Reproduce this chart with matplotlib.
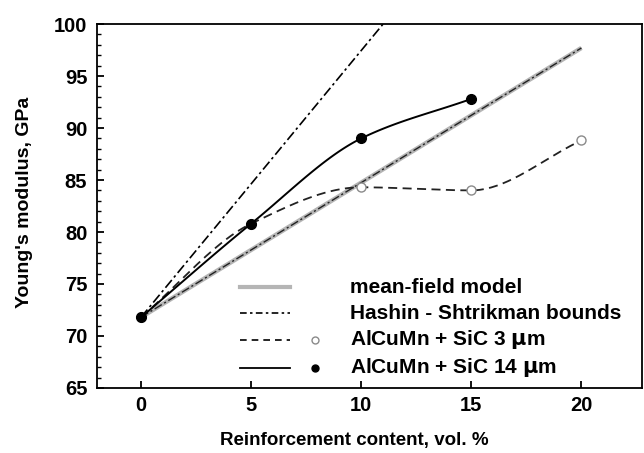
import numpy as np
import matplotlib
matplotlib.use('Agg')
import matplotlib.pyplot as plt
from matplotlib.ticker import MultipleLocator

plt.rcParams['font.family'] = ['Liberation Sans', 'DejaVu Sans']
plt.rcParams['font.weight'] = 'bold'

# Данные
mf_x = [0, 20]
mf_y = [71.8, 97.7]
hs_up_x = [0, 11.5]
hs_up_y = [71.8, 101.3]
sic3_x = [0, 5, 10, 15, 20]
sic3_y = [71.8, 80.8, 84.3, 84.0, 88.8]
sic14_x = [0, 5, 10, 15]
sic14_y = [71.8, 80.8, 89.0, 92.8]

legend_labels = ['mean-field model', 'Hashin - Shtrikman bounds',
                 'AlCuMn + SiC 3 $\\mathbf{\\mu}$m', 'AlCuMn + SiC 14 $\\mathbf{\\mu}$m']


# Гладкая кривая через точки (монотонный кубический сплайн)
def smooth(x, y, n=40):
    x = np.asarray(x, float)
    y = np.asarray(y, float)
    h = np.diff(x)
    d = np.diff(y) / h
    m = np.zeros_like(y)
    for i in range(1, len(x) - 1):
        if d[i - 1] * d[i] > 0:
            w1 = 2 * h[i] + h[i - 1]
            w2 = h[i] + 2 * h[i - 1]
            m[i] = (w1 + w2) / (w1 / d[i - 1] + w2 / d[i])
    m[0] = d[0]
    m[-1] = d[-1]
    xs, ys = [], []
    t = np.linspace(0, 1, n)
    for i in range(len(x) - 1):
        h00 = 2 * t ** 3 - 3 * t ** 2 + 1
        h10 = t ** 3 - 2 * t ** 2 + t
        h01 = -2 * t ** 3 + 3 * t ** 2
        h11 = t ** 3 - t ** 2
        xs.extend(x[i] + t * h[i])
        ys.extend(h00 * y[i] + h10 * h[i] * m[i] + h01 * y[i + 1] + h11 * h[i] * m[i + 1])
    return xs, ys


fig = plt.figure(figsize=(6.44, 4.53), dpi=100)
ax = fig.add_axes([0.1506, 0.1435, 0.8463, 0.8035])

ax.plot(mf_x, mf_y, color='#b5b5b5', lw=3.2, solid_capstyle='butt')
ax.plot(mf_x, mf_y, color='#222222', lw=1.0, dashes=(6, 2, 1.5, 2))
ax.plot(hs_up_x, hs_up_y, color='black', lw=1.2, dashes=(6, 2, 1.5, 2))

sx, sy = smooth(sic3_x, sic3_y)
ax.plot(sx, sy, color='#222222', lw=1.3, dashes=(5, 3))
ax.plot(sic3_x, sic3_y, 'o', ms=6.5, mfc='white', mec='#8a8a8a', mew=1.0, ls='none')

sx, sy = smooth(sic14_x, sic14_y)
ax.plot(sx, sy, color='black', lw=1.4)
ax.plot(sic14_x, sic14_y, 'o', ms=7, color='black', ls='none')

# Легенда вручную
rows_y = [0.277, 0.206, 0.132, 0.055]
lx = [0.262, 0.354]
ax.plot(lx, [rows_y[0]] * 2, color='#b5b5b5', lw=3, transform=ax.transAxes)
ax.plot(lx, [rows_y[1]] * 2, color='black', lw=1.2, dashes=(4, 2, 1.5, 2), transform=ax.transAxes)
ax.plot(lx, [rows_y[2]] * 2, color='black', lw=1.2, dashes=(4, 3), transform=ax.transAxes)
ax.plot(lx, [rows_y[3]] * 2, color='black', lw=1.3, transform=ax.transAxes)
ax.plot([0.40], [rows_y[2]], 'o', ms=5, mfc='white', mec='#8a8a8a', transform=ax.transAxes)
ax.plot([0.40], [rows_y[3]], 'o', ms=5, color='black', transform=ax.transAxes)
for yy, lab in zip(rows_y, legend_labels):
    ax.text(0.464, yy, lab, transform=ax.transAxes, fontsize=15, fontweight='bold',
            va='center', ha='left')

ax.set_xlim(-2, 22.75)
ax.set_ylim(65, 100)
ax.set_xticks([0, 5, 10, 15, 20])
ax.set_yticks(np.arange(65, 101, 5))
ax.yaxis.set_minor_locator(MultipleLocator(1))
ax.tick_params(axis='both', which='major', direction='in', length=5, width=1.3, labelsize=14.5)
ax.tick_params(axis='y', which='minor', direction='in', length=3, width=1.0)
ax.tick_params(axis='x', pad=6)
ax.tick_params(axis='y', pad=7)
ax.tick_params(right=False, top=False)
for sp in ax.spines.values():
    sp.set_linewidth(1.3)

ax.set_xlabel('Reinforcement content, vol. %', fontsize=13.5, fontweight='bold')
ax.set_ylabel("Young's modulus, GPa", fontsize=14, fontweight='bold')
ax.xaxis.set_label_coords(0.472, -0.122)
ax.yaxis.set_label_coords(-0.117, 0.51)

fig.savefig('out.png', dpi=100)
